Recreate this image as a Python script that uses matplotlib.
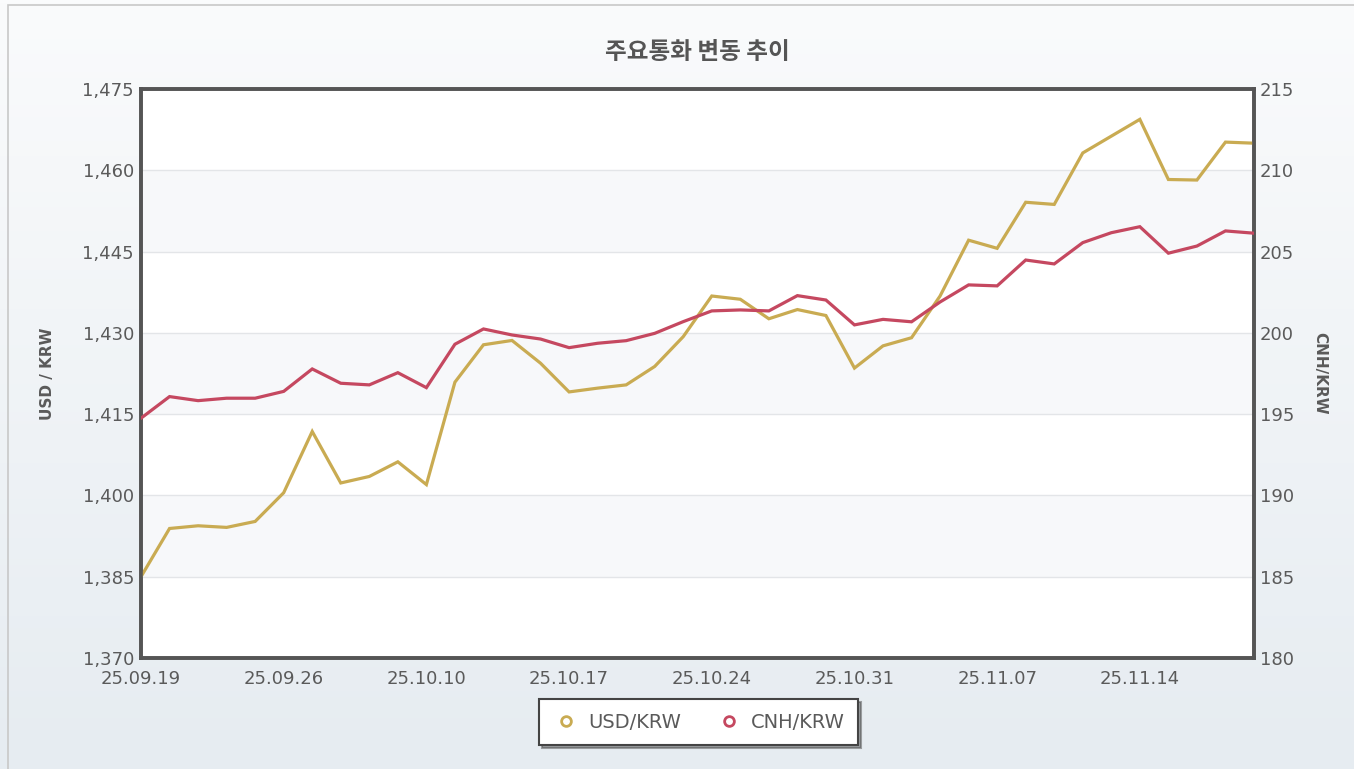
import numpy as np
import matplotlib
matplotlib.use("Agg")
import matplotlib.pyplot as plt
from matplotlib.lines import Line2D
from matplotlib.patches import Rectangle

# 거래일 (추석 연휴 제외)
dates = ["25.09.19", "25.09.22", "25.09.23", "25.09.24", "25.09.25",
         "25.09.26", "25.09.29", "25.09.30", "25.10.01", "25.10.02",
         "25.10.10", "25.10.13", "25.10.14", "25.10.15", "25.10.16",
         "25.10.17", "25.10.20", "25.10.21", "25.10.22", "25.10.23",
         "25.10.24", "25.10.27", "25.10.28", "25.10.29", "25.10.30",
         "25.10.31", "25.11.03", "25.11.04", "25.11.05", "25.11.06",
         "25.11.07", "25.11.10", "25.11.11", "25.11.12", "25.11.13",
         "25.11.14", "25.11.17", "25.11.18", "25.11.19", "25.11.20"]

usd_krw = [1385.0, 1393.9, 1394.4, 1394.1, 1395.2, 1400.5, 1411.8, 1402.3, 1403.5, 1406.2,
           1402.0, 1420.9, 1427.8, 1428.6, 1424.4, 1419.1, 1419.8, 1420.4, 1423.8, 1429.3,
           1436.8, 1436.2, 1432.6, 1434.3, 1433.2, 1423.5, 1427.6, 1429.1, 1436.8, 1447.1,
           1445.6, 1454.1, 1453.7, 1463.2, 1466.3, 1469.4, 1458.3, 1458.2, 1465.2, 1465.0]

cnh_krw = [194.75, 196.08, 195.83, 195.98, 195.98, 196.40, 197.78, 196.90, 196.80, 197.55,
           196.63, 199.30, 200.24, 199.87, 199.62, 199.09, 199.36, 199.52, 199.97, 200.69,
           201.35, 201.41, 201.35, 202.29, 202.02, 200.49, 200.83, 200.68, 201.90, 202.95,
           202.89, 204.48, 204.24, 205.55, 206.16, 206.53, 204.90, 205.34, 206.27, 206.13]

usd_ticks = [1370, 1385, 1400, 1415, 1430, 1445, 1460, 1475]
cnh_ticks = [180, 185, 190, 195, 200, 205, 210, 215]

USD_COLOR = "#C9AB52"
CNH_COLOR = "#C54860"
TEXT = "#5a5a5a"

fig = plt.figure(figsize=(13.54, 7.69), dpi=100)

# --- 배경 그라데이션 + 테두리 ---
bg = fig.add_axes([0, 0, 1, 1], zorder=-10)
grad = np.linspace(0, 1, 256).reshape(-1, 1)
cmap = matplotlib.colors.LinearSegmentedColormap.from_list("bg", ["#fafbfc", "#e6ecf1"])
bg.imshow(grad, aspect="auto", cmap=cmap, extent=[0, 1, 0, 1], origin="upper")
bg.add_patch(Rectangle((8 / 1354, -0.01), 1.0, 1.01 - 5 / 769, fill=False,
                       edgecolor="#c8c8c8", linewidth=1.2, transform=bg.transAxes))
bg.set_xlim(0, 1)
bg.set_ylim(0, 1)
bg.axis("off")

# --- 메인 차트 ---
ax = fig.add_axes([141 / 1354, 111 / 769, 1113 / 1354, 569 / 769])
ax.set_facecolor("white")
x = np.arange(len(dates))

# 교대 배경 밴드
for lo, hi in zip(usd_ticks[1::2], usd_ticks[2::2]):
    ax.axhspan(lo, hi, color="#f7f8fa", zorder=0, lw=0)
for t in usd_ticks[1:-1]:
    ax.axhline(t, color="#e3e5e8", lw=1, zorder=1)

ax.plot(x, usd_krw, color=USD_COLOR, lw=2.3, zorder=3, solid_joinstyle="miter")
ax.set_xlim(0, len(dates) - 1)
ax.set_ylim(usd_ticks[0], usd_ticks[-1])
ax.set_yticks(usd_ticks)
ax.set_yticklabels([f"{v:,}" for v in usd_ticks])
ax.set_xticks(x[::5])
ax.set_xticklabels(dates[::5])
ax.tick_params(axis="both", length=0, labelsize=13, colors=TEXT)
ax.tick_params(axis="x", pad=9)
ax.tick_params(axis="y", pad=5)
ax.set_ylabel("USD / KRW", fontsize=11, fontweight="bold", color=TEXT)
ax.yaxis.set_label_coords(-0.077, 0.5)

ax2 = ax.twinx()
ax2.plot(x, cnh_krw, color=CNH_COLOR, lw=2.3, zorder=3, solid_joinstyle="miter")
ax2.set_ylim(cnh_ticks[0], cnh_ticks[-1])
ax2.set_yticks(cnh_ticks)
ax2.tick_params(axis="y", length=0, labelsize=13, colors=TEXT, pad=4)
ax2.set_ylabel("CNH/KRW", fontsize=11, fontweight="bold", color=TEXT, rotation=-90)
ax2.yaxis.set_label_coords(1.066, 0.5)

for a in (ax, ax2):
    for s in a.spines.values():
        s.set_color("#555555")
        s.set_linewidth(2.6)

# --- 제목 ---
fig.text(0.515, 0.932, "주요통화 변동 추이", ha="center", va="center", fontsize=17,
         fontweight="bold", color="#555555",
         family=["Noto Sans CJK KR", "DejaVu Sans"])

# --- 범례 ---
handles = [
    Line2D([], [], ls="none", marker="o", markersize=7, markerfacecolor="white",
           markeredgecolor=USD_COLOR, markeredgewidth=2, label="USD/KRW"),
    Line2D([], [], ls="none", marker="o", markersize=7, markerfacecolor="white",
           markeredgecolor=CNH_COLOR, markeredgewidth=2, label="CNH/KRW"),
]
leg = fig.legend(handles=handles, loc="center", bbox_to_anchor=(0.516, 0.061), ncol=2,
                 fontsize=14, frameon=True, fancybox=False, shadow=True,
                 edgecolor="#444444", borderpad=0.7, handletextpad=0.4,
                 columnspacing=1.8, handlelength=1.4)
leg.get_frame().set_linewidth(1.5)
for t in leg.get_texts():
    t.set_color(TEXT)

fig.savefig("out.png", dpi=100)
